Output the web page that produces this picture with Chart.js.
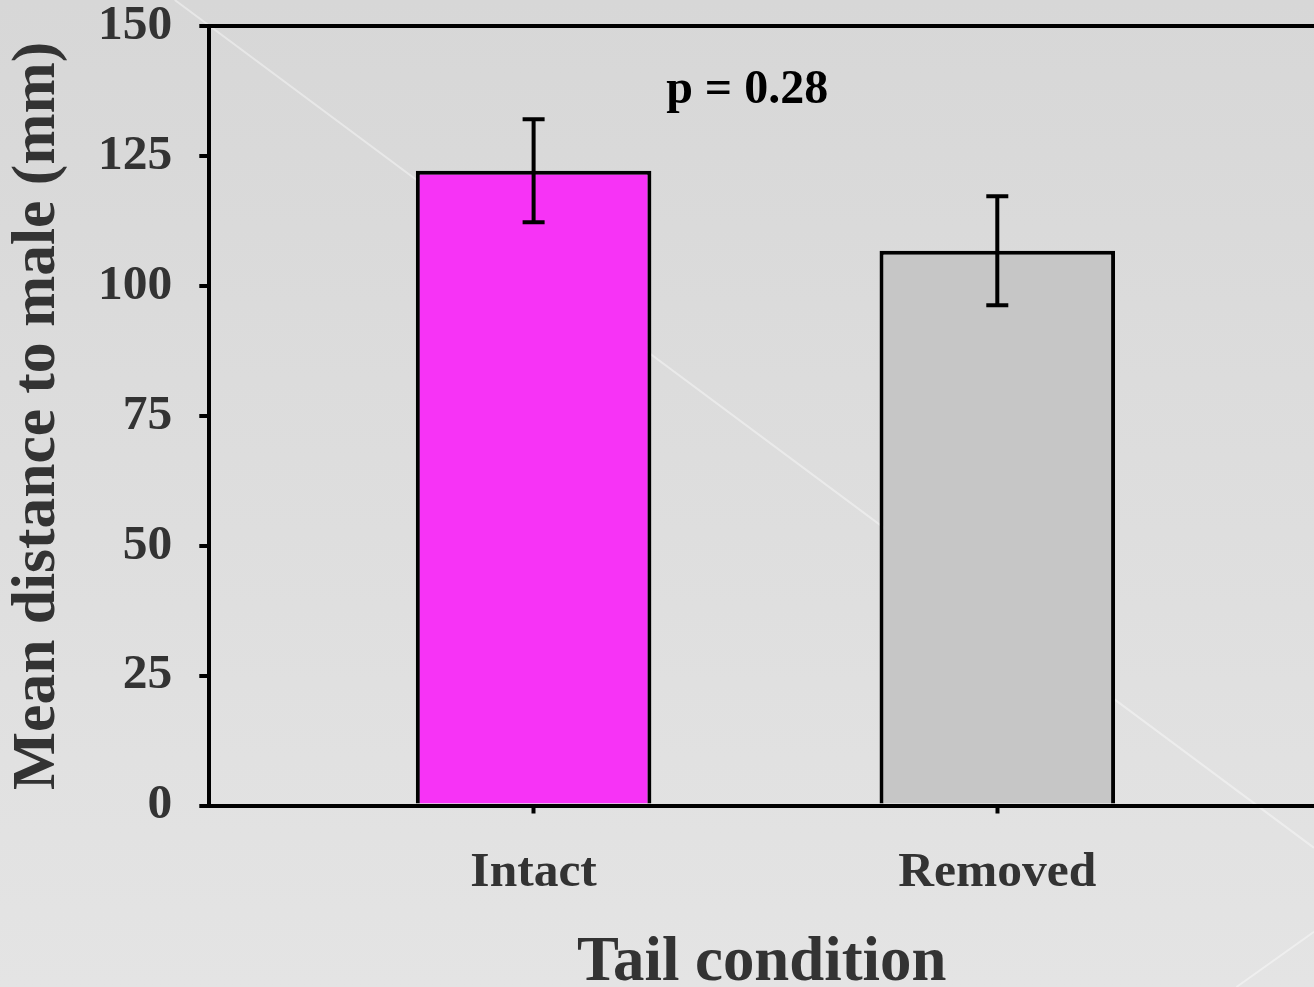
<!DOCTYPE html>
<html>
<head>
<meta charset="utf-8">
<script src="https://cdn.jsdelivr.net/npm/chart.js@4"></script>
<style>
  html, body { margin: 0; padding: 0; background: #dedede; overflow: hidden; }
  #wrap { width: 1314px; height: 987px; }
</style>
</head>
<body>
<div id="wrap"><canvas id="c" width="1314" height="987"></canvas></div>
<script>
// ---- data ----
const categories = ['Intact', 'Removed'];
const means = [122.2, 106.8];
const errors = [9.9, 10.5];
const yTickValues = [0, 25, 50, 75, 100, 125, 150];
const yTitle = 'Mean distance to male (mm)';
const xTitle = 'Tail condition';
const pText = 'p = 0.28';

// ---- styles / layout ----
const barColors = ['#f733f6', '#c6c6c6'];
const FONT = "'Liberation Serif', 'Times New Roman', serif";
const pLabelPos = { x: 0.4606, y: 135.2 };
const Y_AXIS_WIDTH = 209.3;
const X_AXIS_HEIGHT = 181.5;

const bgPlugin = {
  id: 'bg',
  beforeDraw(chart) {
    const { ctx, width, height } = chart;
    ctx.save();
    const g = ctx.createLinearGradient(0, 0, 0, height);
    g.addColorStop(0, '#d7d7d7');
    g.addColorStop(1, '#e4e4e4');
    ctx.fillStyle = g;
    ctx.fillRect(0, 0, width, height);
    ctx.strokeStyle = 'rgba(255,255,255,0.4)';
    ctx.lineWidth = 2;
    ctx.beginPath();
    ctx.moveTo(width * 0.133, 0);
    ctx.lineTo(width, height * 0.859);
    ctx.moveTo(width * 0.941, height);
    ctx.lineTo(width, height * 0.944);
    ctx.stroke();
    ctx.restore();
  }
};

const errorBarPlugin = {
  id: 'errbars',
  afterDatasetsDraw(chart) {
    const { ctx } = chart;
    const y = chart.scales.y;
    const meta = chart.getDatasetMeta(0);
    ctx.save();
    ctx.strokeStyle = '#000';
    ctx.lineWidth = 4;
    ctx.lineCap = 'butt';
    meta.data.forEach((bar, i) => {
      const x = bar.x;
      const yt = y.getPixelForValue(means[i] + errors[i]);
      const yb = y.getPixelForValue(means[i] - errors[i]);
      const cap = 11;
      ctx.beginPath();
      ctx.moveTo(x, yt); ctx.lineTo(x, yb);
      ctx.moveTo(x - cap, yt); ctx.lineTo(x + cap, yt);
      ctx.moveTo(x - cap, yb); ctx.lineTo(x + cap, yb);
      ctx.stroke();
    });
    ctx.restore();
  }
};

const pLabelPlugin = {
  id: 'plabel',
  afterDraw(chart) {
    const { ctx } = chart;
    ctx.save();
    ctx.font = 'bold 48px ' + FONT;
    ctx.fillStyle = '#000';
    ctx.textAlign = 'center';
    ctx.textBaseline = 'alphabetic';
    ctx.fillText(pText, chart.scales.x.getPixelForValue(pLabelPos.x), chart.scales.y.getPixelForValue(pLabelPos.y));
    ctx.restore();
  }
};

new Chart(document.getElementById('c'), {
  type: 'bar',
  data: {
    datasets: [{
      data: categories.map((c, i) => ({ x: i, y: means[i] })),
      backgroundColor: barColors,
      borderColor: '#000',
      borderWidth: 4,
      barPercentage: 0.508,
      categoryPercentage: 1
    }]
  },
  options: {
    responsive: false,
    animation: false,
    layout: { padding: { top: 26.3, left: 0, right: 0, bottom: 0 } },
    plugins: { legend: { display: false }, tooltip: { enabled: false } },
    scales: {
      x: {
        type: 'linear',
        z: 1,
        offset: false,
        min: -0.6994,
        max: 1.683,
        afterBuildTicks(scale) { scale.ticks = categories.map((c, i) => ({ value: i })); },
        afterFit(scale) {
          scale.height = X_AXIS_HEIGHT;
          scale.paddingLeft = 0; scale.paddingRight = 0;
        },
        grid: { display: true, drawOnChartArea: false, offset: false, tickLength: 8, tickWidth: 4, tickColor: '#000', color: '#000' },
        border: { display: true, color: '#000', width: 4 },
        ticks: {
          callback: (v) => categories[v] ?? '',
          color: '#333',
          font: { family: FONT, size: 49.5, weight: 'bold', lineHeight: 1 },
          padding: 34.5,
          maxRotation: 0,
          autoSkip: false
        },
        title: {
          display: true,
          text: xTitle,
          color: '#333',
          font: { family: FONT, size: 62.8, weight: 'bold', lineHeight: 0.75 },
          padding: { top: 0, bottom: 0 }
        }
      },
      y: {
        z: 1,
        min: 0,
        max: 150,
        afterBuildTicks(scale) { scale.ticks = yTickValues.map(v => ({ value: v })); },
        afterFit(scale) {
          scale.width = Y_AXIS_WIDTH;
          scale.paddingTop = 0; scale.paddingBottom = 0;
        },
        grid: {
          display: true,
          drawOnChartArea: true,
          color: (ctx) => (ctx.tick && ctx.tick.value === 150 ? '#000' : 'rgba(0,0,0,0)'),
          lineWidth: 4,
          tickLength: 10,
          tickWidth: 4,
          tickColor: '#000'
        },
        border: { display: true, color: '#000', width: 4 },
        ticks: {
          color: '#333',
          font: { family: FONT, size: 49.5, weight: 'bold', lineHeight: 1 },
          padding: 27
        },
        title: {
          display: true,
          text: yTitle,
          color: '#333',
          font: { family: FONT, size: 61.5, weight: 'bold', lineHeight: 1 },
          padding: { top: 7, bottom: 0 }
        }
      }
    }
  },
  plugins: [bgPlugin, errorBarPlugin, pLabelPlugin]
});
</script>
</body>
</html>
